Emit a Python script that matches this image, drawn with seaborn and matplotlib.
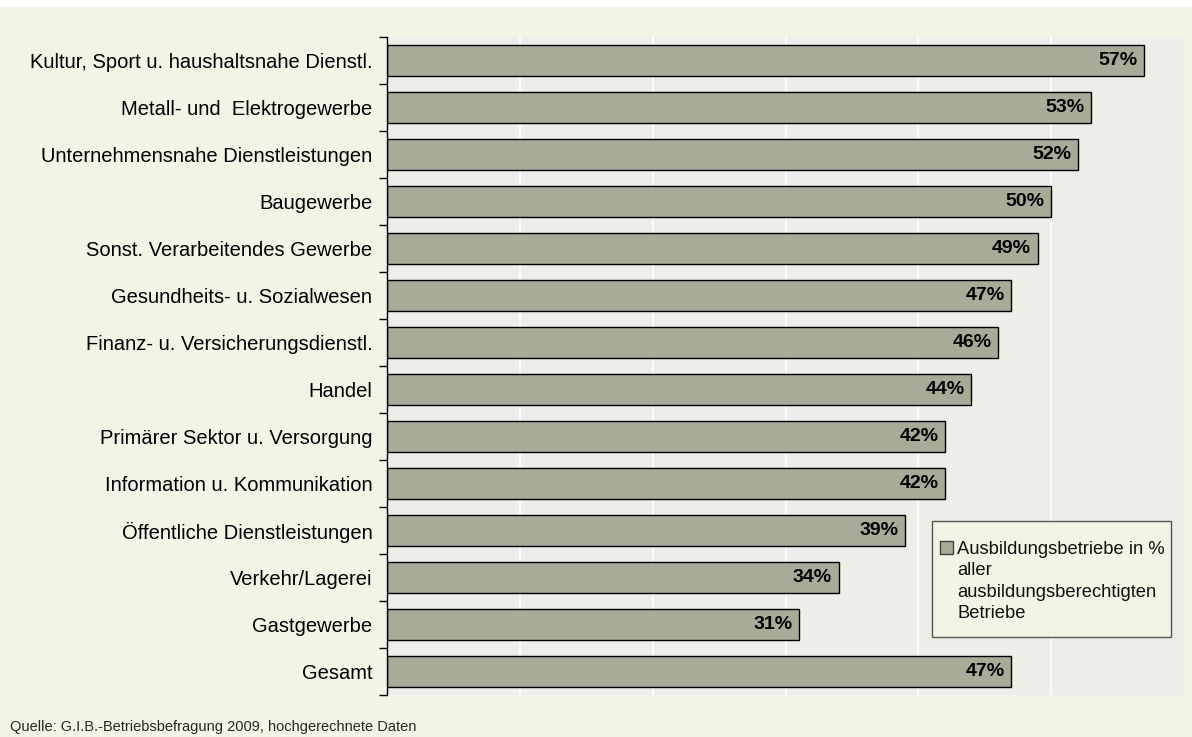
import numpy as np
import pandas as pd
import matplotlib
matplotlib.use("Agg")
import matplotlib.pyplot as plt
import seaborn as sns
from matplotlib.patches import Rectangle, Patch

# data
branchen = ["Kultur, Sport u. haushaltsnahe Dienstl.",
            "Metall- und  Elektrogewerbe",
            "Unternehmensnahe Dienstleistungen",
            "Baugewerbe",
            "Sonst. Verarbeitendes Gewerbe",
            "Gesundheits- u. Sozialwesen",
            "Finanz- u. Versicherungsdienstl.",
            "Handel",
            "Primärer Sektor u. Versorgung",
            "Information u. Kommunikation",
            "Öffentliche Dienstleistungen",
            "Verkehr/Lagerei",
            "Gastgewerbe",
            "Gesamt"]
anteil = [57, 53, 52, 50, 49, 47, 46, 44, 42, 42, 39, 34, 31, 47]
legend_lines = ["Ausbildungsbetriebe in %", "aller",
                "ausbildungsberechtigten", "Betriebe"]
quelle = "Quelle: G.I.B.-Betriebsbefragung 2009, hochgerechnete Daten"

df = pd.DataFrame({"Branche": branchen, "Anteil": anteil})

sns.set_theme(style="white")
plt.rcParams['font.family'] = ['Liberation Sans', 'DejaVu Sans']

bar_color = "#A9AA98"
fig_bg = "#F3F3E6"
plot_bg = "#ECEEE8"

fig = plt.figure(figsize=(11.92, 7.37), dpi=100, facecolor="white")
# beige background below a thin white strip at the top
fig.patches.append(Rectangle((0, 0), 1, 1 - 7 / 737, transform=fig.transFigure,
                             facecolor=fig_bg, edgecolor="none", zorder=-10))

ax = fig.add_axes([387 / 1192, 1 - 695 / 737, (1184 - 387) / 1192, (695 - 37) / 737])
ax.set_facecolor(plot_bg)

sns.barplot(data=df, y="Branche", x="Anteil", orient="h", color=bar_color,
            edgecolor="black", linewidth=1.0, width=0.64, saturation=1, ax=ax)

ax.set_xlim(0, 60)
ax.set_ylim(len(branchen) - 0.5, -0.5)
ax.set_xticks([10, 20, 30, 40, 50])
ax.set_xticklabels([])
ax.xaxis.grid(True, color="white", linewidth=1.2)
ax.set_axisbelow(True)
ax.tick_params(axis="x", length=0)

# category labels without tick marks, small ticks between categories
ax.tick_params(axis="y", which="major", left=False, length=0, pad=10.5,
               labelsize=14.5, labelcolor="black")
ax.set_yticks(np.arange(-0.5, len(branchen)), minor=True)
ax.tick_params(axis="y", which="minor", left=True, length=6, width=1,
               color="black", direction="out")
ax.set_xlabel("")
ax.set_ylabel("")

for s in ["top", "right", "bottom"]:
    ax.spines[s].set_visible(False)
ax.spines["left"].set_color("black")
ax.spines["left"].set_linewidth(1)

for i, v in enumerate(anteil):
    ax.text(v - 0.5, i, f"{v}%", ha="right", va="center", fontsize=14,
            fontweight="bold", color="black")

# legend box drawn by hand (padding is wider on top than at the sides)
px_w, px_h = 797, 658
ax.add_patch(Rectangle(((932 - 387) / px_w, 1 - (637 - 37) / px_h),
                       (1171 - 932) / px_w, (637 - 521) / px_h,
                       transform=ax.transAxes, facecolor=fig_bg,
                       edgecolor="#555555", linewidth=1, zorder=5))

# square only next to the first line, remaining lines indented
handles = [Patch(facecolor=bar_color, edgecolor="#444444", linewidth=1)]
handles += [Patch(facecolor="none", edgecolor="none") for _ in legend_lines[1:]]
leg = ax.legend(handles, legend_lines, loc="upper left",
                bbox_to_anchor=((940 - 387) / px_w, 1 - (541 - 37) / px_h),
                frameon=False, fontsize=13.2, handlelength=0.7,
                handleheight=0.7, handletextpad=0.25, borderpad=0,
                labelspacing=0.24, borderaxespad=0)
leg.set_zorder(6)
for t in leg.get_texts():
    t.set_color("#111111")

fig.text(10 / 1192, 1 - 727 / 737, quelle, fontsize=10.5, ha="left", va="center")

fig.savefig("out.png", dpi=100, facecolor=fig.get_facecolor())
